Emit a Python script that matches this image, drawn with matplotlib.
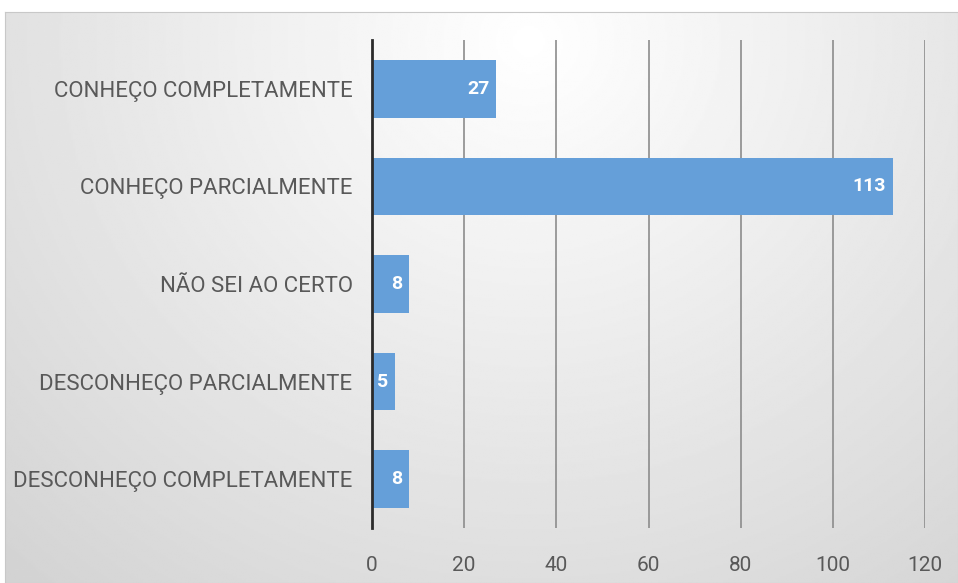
import numpy as np
import matplotlib.pyplot as plt

# data
categories = ['DESCONHEÇO COMPLETAMENTE', 'DESCONHEÇO PARCIALMENTE',
              'NÃO SEI AO CERTO', 'CONHEÇO PARCIALMENTE',
              'CONHEÇO COMPLETAMENTE']
values = [8, 5, 8, 113, 27]
xticks = [0, 20, 40, 60, 80, 100, 120]

fam = ['Roboto', 'DejaVu Sans']
txt = '#595959'

fig = plt.figure(figsize=(9.58, 5.83), dpi=100)

# radial gray background of the chart box
bg = fig.add_axes([5 / 958, 0, 953 / 958, 571 / 583])
yy, xx = np.mgrid[0:1:300j, 0:1:500j]
r = np.sqrt(((xx - 0.55) / 0.7) ** 2 + ((yy - 0.05) / 1.1) ** 2)
bg.imshow(1 - 0.15 * np.clip(r, 0, 1.2), cmap='gray', vmin=0, vmax=1,
          aspect='auto', extent=(0, 1, 0, 1), origin='upper')
bg.set_xticks([])
bg.set_yticks([])
for s in bg.spines.values():
    s.set_color('#c8c8c8')

ax = fig.add_axes([372 / 958, 55 / 583, 553 / 958, 488 / 583])
ax.patch.set_visible(False)
ypos = np.arange(len(categories))
bars = ax.barh(ypos, values, height=0.59, color='#659fd9', zorder=3)
for b, v in zip(bars, values):
    ax.text(b.get_width() - 1.5, b.get_y() + b.get_height() / 2, str(v),
            ha='right', va='center', color='white', fontweight='bold',
            fontsize=14, family=fam, zorder=4)

ax.set_xlim(0, 120)
ax.set_ylim(-0.5, 4.5)
ax.set_xticks(xticks)
ax.set_yticks(ypos)
ax.set_yticklabels(categories, family=fam, fontsize=16, color=txt)
for lab in ax.get_xticklabels():
    lab.set_family(fam)
    lab.set_fontsize(15)
    lab.set_color(txt)
ax.tick_params(length=0, pad=14)
ax.tick_params(axis='x', pad=20)
ax.grid(axis='x', color='#8c8c8c', linewidth=1.2, zorder=0)
for k in ['top', 'right', 'bottom']:
    ax.spines[k].set_visible(False)
ax.spines['left'].set_color('#2b2b2b')
ax.spines['left'].set_linewidth(2)
ax.spines['left'].set_zorder(5)

fig.savefig('out.png', dpi=100)
